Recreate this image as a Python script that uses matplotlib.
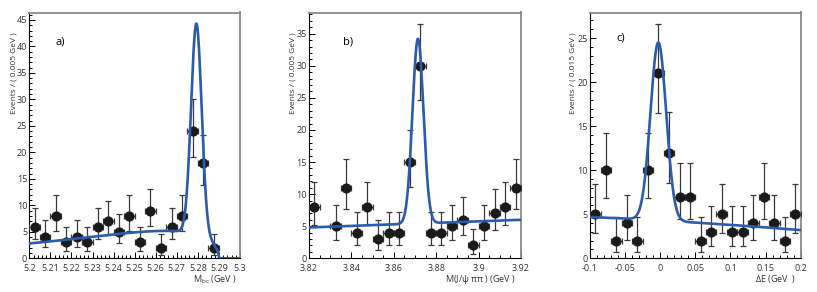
import numpy as np
import matplotlib
matplotlib.use("Agg")
import matplotlib.pyplot as plt
from matplotlib.ticker import MultipleLocator, AutoMinorLocator, FuncFormatter

plt.rcParams['font.family'] = ['Open Sans', 'DejaVu Sans']
plt.rcParams['mathtext.fontset'] = 'custom'
plt.rcParams['mathtext.rm'] = 'Open Sans'
plt.rcParams['mathtext.it'] = 'Open Sans'

# ---------------- data ----------------
# panel a: Mbc
a_x = [5.2025, 5.2075, 5.2125, 5.2175, 5.2225, 5.2275, 5.2325, 5.2375, 5.2425,
       5.2475, 5.2525, 5.2575, 5.2625, 5.2675, 5.2725, 5.2775, 5.2825, 5.2875]
a_y = [6, 4, 8, 3, 4, 3, 6, 7, 5, 8, 3, 9, 2, 6, 8, 24, 18, 2]
a_lo = [3.62, 2.09, 5.23, 1.37, 2.09, 1.37, 3.62, 4.42, 2.84, 5.23, 1.37, 6.06, 0.71, 3.62, 5.23, 19.2, 13.8, 0.71]
a_hi = [9.58, 7.16, 11.95, 5.92, 7.16, 5.92, 9.58, 10.77, 8.38, 11.95, 5.92, 13.15, 4.64, 9.58, 11.95, 30.0, 23.3, 4.64]

# panel b: M(J/psi pi pi)
b_x = [3.8225, 3.8325, 3.8375, 3.8425, 3.8475, 3.8525, 3.8575, 3.8625, 3.8675,
       3.8725, 3.8775, 3.8825, 3.8875, 3.8925, 3.8975, 3.9025, 3.9075, 3.9125, 3.9175]
b_y = [8, 5, 11, 4, 8, 3, 4, 4, 15, 30, 4, 4, 5, 6, 2, 5, 7, 8, 11]
b_lo = [5.23, 2.84, 7.73, 2.09, 5.23, 1.37, 2.09, 2.09, 11.16, 24.6, 2.09, 2.09, 2.84, 3.62, 0.71, 2.84, 4.42, 5.23, 7.73]
b_hi = [11.95, 8.38, 15.42, 7.16, 11.95, 5.92, 7.16, 7.16, 19.96, 36.5, 7.16, 7.16, 8.38, 9.58, 4.64, 8.38, 10.77, 11.95, 15.42]

# panel c: Delta E
c_x = [-0.0925, -0.0775, -0.0625, -0.0475, -0.0325, -0.0175, -0.0025, 0.0125, 0.0275, 0.0425,
       0.0575, 0.0725, 0.0875, 0.1025, 0.1175, 0.1325, 0.1475, 0.1625, 0.1775, 0.1925]
c_y = [5, 10, 2, 4, 2, 10, 21, 12, 7, 7, 2, 3, 5, 3, 3, 4, 7, 4, 2, 5]
c_lo = [2.84, 6.89, 0.71, 2.09, 0.71, 6.89, 16.5, 8.58, 4.42, 4.42, 0.71, 1.37, 2.84, 1.37, 1.37, 2.09, 4.42, 2.09, 0.71, 2.84]
c_hi = [8.38, 14.27, 4.64, 7.16, 4.64, 14.27, 26.6, 16.56, 10.77, 10.77, 4.64, 5.92, 8.38, 5.92, 5.92, 7.16, 10.77, 7.16, 4.64, 8.38]

# fit parameters
a_fit = dict(mean=5.2793, sigma=0.0025, peak=44.3, m0=5.29, c=-51.0, bg_ref=5.1, bg_ref_x=5.27)
b_fit = dict(mean=3.8714, sigma=0.0026, peak=34.2, bg0=4.8, bg1=6.0)
c_fit = dict(mean=-0.0027, sigma=0.0112, peak=24.5, bg_x=[-0.1, 0.04, 0.2], bg_y=[4.68, 4.1, 3.2])

BLUE = '#2b5cab'
TXT = '#333333'

fig = plt.figure(figsize=(8.17, 2.92), dpi=100)
W, H = 817.0, 292.0
bottom_px, top_px = 258.3, 12.5
boxes = [(29.3, 240.0), (309.0, 521.0), (590.0, 800.7)]
axs = [fig.add_axes([l / W, 1 - bottom_px / H, (r - l) / W, (bottom_px - top_px) / H]) for l, r in boxes]


def argus(m, p):
    m = np.asarray(m, dtype=float)
    z = np.clip(1 - (m / p['m0']) ** 2, 0, None)
    f = m * np.sqrt(z) * np.exp(p['c'] * z)
    zr = 1 - (p['bg_ref_x'] / p['m0']) ** 2
    fr = p['bg_ref_x'] * np.sqrt(zr) * np.exp(p['c'] * zr)
    return f * p['bg_ref'] / fr


def gauss(x, mu, s):
    return np.exp(-0.5 * ((x - mu) / s) ** 2)


def fmt(v, pos):
    s = ('%.3f' % v).rstrip('0').rstrip('.')
    if s == '-0':
        s = '0'
    return s


def style(ax, xlim, ylim, xmaj, xmin_div, ymaj, xlabel, ylabel, tag, tagpos, xlab_x, ylab_x):
    ax.set_xlim(*xlim)
    ax.set_ylim(*ylim)
    ax.xaxis.set_major_locator(MultipleLocator(xmaj))
    ax.xaxis.set_minor_locator(AutoMinorLocator(xmin_div))
    ax.yaxis.set_major_locator(MultipleLocator(ymaj))
    ax.yaxis.set_minor_locator(AutoMinorLocator(5))
    ax.xaxis.set_major_formatter(FuncFormatter(fmt))
    ax.tick_params(which='both', direction='in', colors='black', labelcolor=TXT,
                   labelsize=6.5, top=False, right=False, width=0.7)
    ax.tick_params(which='major', length=4)
    ax.tick_params(which='minor', length=2)
    ax.tick_params(axis='x', which='major', pad=3.8)
    ax.tick_params(axis='y', which='major', pad=1.5)
    for s in ['left', 'bottom']:
        ax.spines[s].set_color('black')
        ax.spines[s].set_linewidth(0.8)
    for s in ['top', 'right']:
        ax.spines[s].set_color('#8a8a8a')
        ax.spines[s].set_linewidth(1.3)
    ax.set_xlabel(xlabel, fontsize=6.5, color=TXT, loc='right')
    ax.xaxis.set_label_coords(xlab_x, -0.06)
    ax.set_ylabel(ylabel, fontsize=6.0, color=TXT, loc='top')
    ax.yaxis.set_label_coords(ylab_x, 0.921)
    ax.text(tagpos[0], tagpos[1], tag, transform=ax.transAxes, fontsize=8, color='black')


def draw_points(ax, x, y, lo, hi, halfw):
    x = np.asarray(x); y = np.asarray(y)
    yerr = [y - np.asarray(lo), np.asarray(hi) - y]
    ax.errorbar(x, y, yerr=yerr, xerr=halfw, fmt='o', ms=6.3, mfc='#1a1a1a', mec='#1a1a1a',
                ecolor='#3a3a3a', elinewidth=0.9, capsize=2.2, capthick=0.9, zorder=3)


# panel a
ax = axs[0]
xa = np.linspace(5.2, 5.3, 2000)
bga = argus(xa, a_fit)
amp_a = a_fit['peak'] - argus(a_fit['mean'], a_fit)
ya = bga + amp_a * gauss(xa, a_fit['mean'], a_fit['sigma'])
draw_points(ax, a_x, a_y, a_lo, a_hi, 0.0025)
ax.plot(xa, ya, color=BLUE, lw=1.9, zorder=4)
style(ax, (5.2, 5.3), (0, 46.4), 0.01, 5, 5, r'M$_{\rm bc}$ (GeV )', 'Events / ( 0.005 GeV )',
      'a)', (0.122, 0.87), 0.984, -0.058)

# panel b
ax = axs[1]
xb = np.linspace(3.82, 3.92, 2000)
bgb = b_fit['bg0'] + (b_fit['bg1'] - b_fit['bg0']) * (xb - 3.82) / 0.1
bg_mean = b_fit['bg0'] + (b_fit['bg1'] - b_fit['bg0']) * (b_fit['mean'] - 3.82) / 0.1
yb = bgb + (b_fit['peak'] - bg_mean) * gauss(xb, b_fit['mean'], b_fit['sigma'])
draw_points(ax, b_x, b_y, b_lo, b_hi, 0.0025)
ax.plot(xb, yb, color=BLUE, lw=1.9, zorder=4)
style(ax, (3.82, 3.92), (0, 38.3), 0.02, 4, 5, r'M(J/$\psi$ $\pi\pi$ ) (GeV )', 'Events / ( 0.005 GeV )',
      'b)', (0.162, 0.87), 0.976, -0.061)

# panel c
ax = axs[2]
xc = np.linspace(-0.1, 0.2, 2000)
coef = np.polyfit(c_fit['bg_x'], c_fit['bg_y'], 2)
bgc = np.polyval(coef, xc)
yc = bgc + (c_fit['peak'] - np.polyval(coef, c_fit['mean'])) * gauss(xc, c_fit['mean'], c_fit['sigma'])
draw_points(ax, c_x, c_y, c_lo, c_hi, 0.0075)
ax.plot(xc, yc, color=BLUE, lw=1.9, zorder=4)
style(ax, (-0.1, 0.2), (0, 27.9), 0.05, 5, 5, r'$\Delta$E (GeV  )', 'Events / ( 0.015 GeV )',
      'c)', (0.123, 0.885), 0.978, -0.064)

fig.savefig('out.png', dpi=100)
